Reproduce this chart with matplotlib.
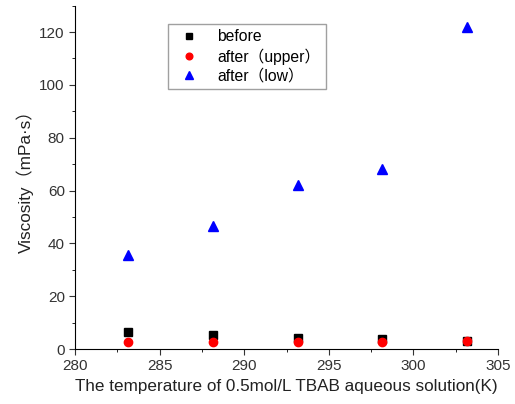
import numpy as np
import matplotlib.pyplot as plt
from matplotlib.ticker import MultipleLocator

plt.rcParams['font.family'] = ['Liberation Sans', 'Noto Sans CJK SC', 'DejaVu Sans']

# temperature (K)
temps = [283.15, 288.15, 293.15, 298.15, 303.15]

# viscosity (mPa·s)
before = [6.3, 5.2, 4.2, 3.7, 3.0]
after_upper = [2.6, 2.6, 2.6, 2.6, 3.0]
after_low = [35.6, 46.4, 62.0, 68.0, 122.0]

fig = plt.figure(figsize=(5.15, 4.04), dpi=100)
ax = fig.add_axes([0.146, 0.136, 0.821, 0.85])

ax.plot(temps, before, 's', color='black', markersize=5.5, label='before')
ax.plot(temps, after_upper, 'o', color='red', markersize=6, label='after\uff08upper\uff09')
ax.plot(temps, after_low, '^', color='blue', markersize=6.5, label='after\uff08low\uff09')

ax.set_xlim(280, 305)
ax.set_ylim(0, 130)
ax.xaxis.set_major_locator(MultipleLocator(5))
ax.xaxis.set_minor_locator(MultipleLocator(2.5))
ax.yaxis.set_major_locator(MultipleLocator(20))
ax.yaxis.set_minor_locator(MultipleLocator(10))
ax.spines['top'].set_visible(False)
ax.spines['right'].set_visible(False)
ax.tick_params(which='major', direction='out', length=4, labelsize=11, colors='#333333')
ax.tick_params(which='minor', direction='out', length=2.5)

ax.set_xlabel('The temperature of 0.5mol/L TBAB aqueous solution(K)', fontsize=12.3, color='#222222')
ax.set_ylabel('Viscosity\uff08mPa\u00b7s\uff09', fontsize=12.3, color='#222222')

leg = ax.legend(loc='upper left', bbox_to_anchor=(0.2, 0.97), frameon=True,
                fancybox=False, edgecolor='#888888', handletextpad=0.8, borderpad=0.35,
                labelspacing=0.25, markerscale=0.8, prop={'size': 11.3})

fig.savefig('out.png', dpi=100)
